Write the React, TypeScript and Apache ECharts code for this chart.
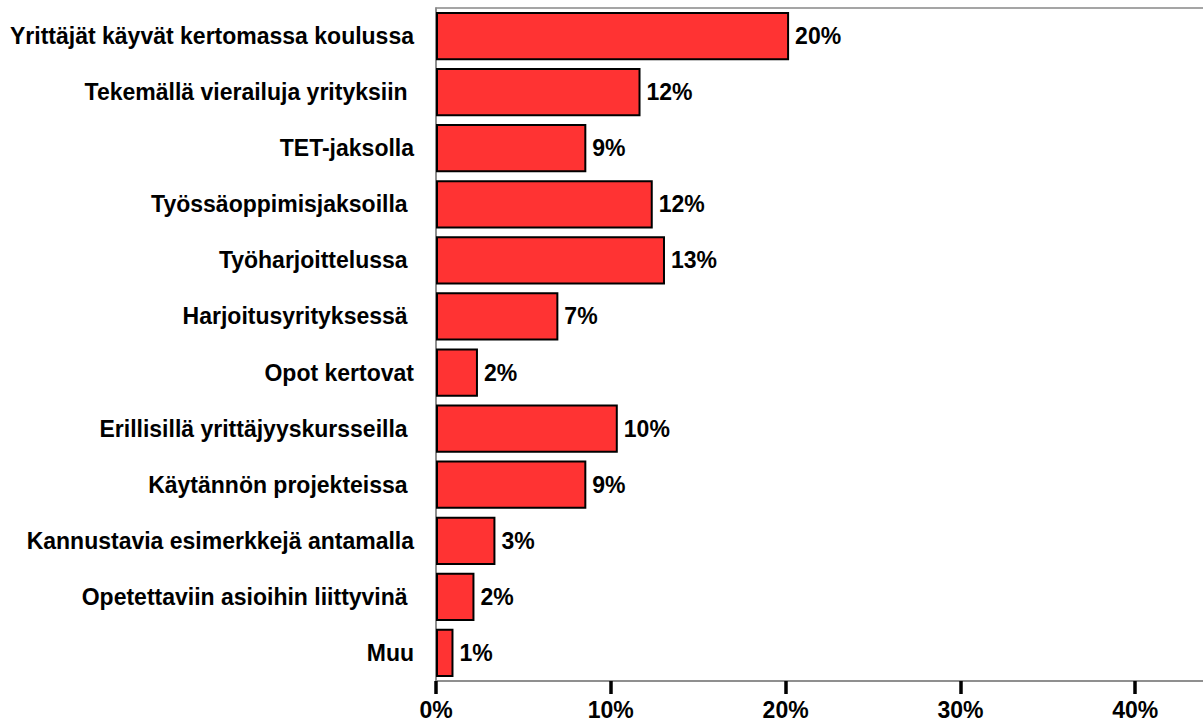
import React, { useEffect, useRef } from "react";
import * as echarts from "echarts";

const categories = [
  "Yrittäjät käyvät kertomassa koulussa",
  "Tekemällä vierailuja yrityksiin ",
  "TET-jaksolla",
  "Työssäoppimisjaksoilla ",
  "Työharjoittelussa ",
  "Harjoitusyrityksessä ",
  "Opot kertovat",
  "Erillisillä yrittäjyyskursseilla ",
  "Käytännön projekteissa ",
  "Kannustavia esimerkkejä antamalla",
  "Opetettaviin asioihin liittyvinä ",
  "Muu",
];

const values = [20.2, 11.7, 8.6, 12.4, 13.1, 7.0, 2.4, 10.4, 8.6, 3.4, 2.2, 1.0];

const xTicks = [0, 10, 20, 30, 40, 50];
const lastShownTick = 40;

const FONT = "'Liberation Sans', Arial, sans-serif";

export default function App() {
  const ref = useRef<HTMLDivElement>(null);
  useEffect(() => {
    if (!ref.current) return;
    const chart = echarts.init(ref.current, null, { renderer: "svg" });
    chart.setOption({
      animation: false,
      backgroundColor: "#ffffff",
      grid: {
        left: 436,
        width: 874,
        top: 8,
        height: 673,
        show: true,
        borderColor: "#888888",
        borderWidth: 1.5,
        containLabel: false,
      },
      xAxis: {
        type: "value",
        min: 0,
        max: xTicks[xTicks.length - 1],
        interval: 10,
        splitLine: { show: false },
        axisLine: { show: true, lineStyle: { color: "#888888", width: 1.5 } },
        axisTick: { show: true, length: 13, lineStyle: { color: "#000000", width: 3.5 } },
        axisLabel: {
          margin: 17,
          fontFamily: FONT,
          fontWeight: "bold",
          fontSize: 23,
          color: "#000000",
          formatter: (v: number) => (v > lastShownTick ? "" : `${v}%`),
        },
      },
      yAxis: {
        type: "category",
        data: categories,
        inverse: true,
        axisLine: { show: true, lineStyle: { color: "#888888", width: 1.5 } },
        axisTick: { show: false },
        axisLabel: {
          margin: 22,
          padding: [6, 0, 0, 0],
          fontFamily: FONT,
          fontWeight: "bold",
          fontSize: 23,
          color: "#000000",
        },
      },
      series: [
        {
          type: "bar",
          data: values,
          barCategoryGap: "14%",
          itemStyle: { color: "#FF3333", borderColor: "#000000", borderWidth: 2 },
          label: {
            show: true,
            position: "right",
            distance: 6,
            padding: [6, 0, 0, 0],
            fontFamily: FONT,
            fontWeight: "bold",
            fontSize: 23,
            color: "#000000",
            formatter: (p: any) => `${Math.round(p.value)}%`,
          },
        },
      ],
    });
    return () => chart.dispose();
  }, []);
  return (
    <div
      style={{ position: "absolute", left: 0, top: 0, width: 1203, height: 724, overflow: "hidden" }}
    >
      <div ref={ref} style={{ width: 1400, height: 724 }} />
    </div>
  );
}
